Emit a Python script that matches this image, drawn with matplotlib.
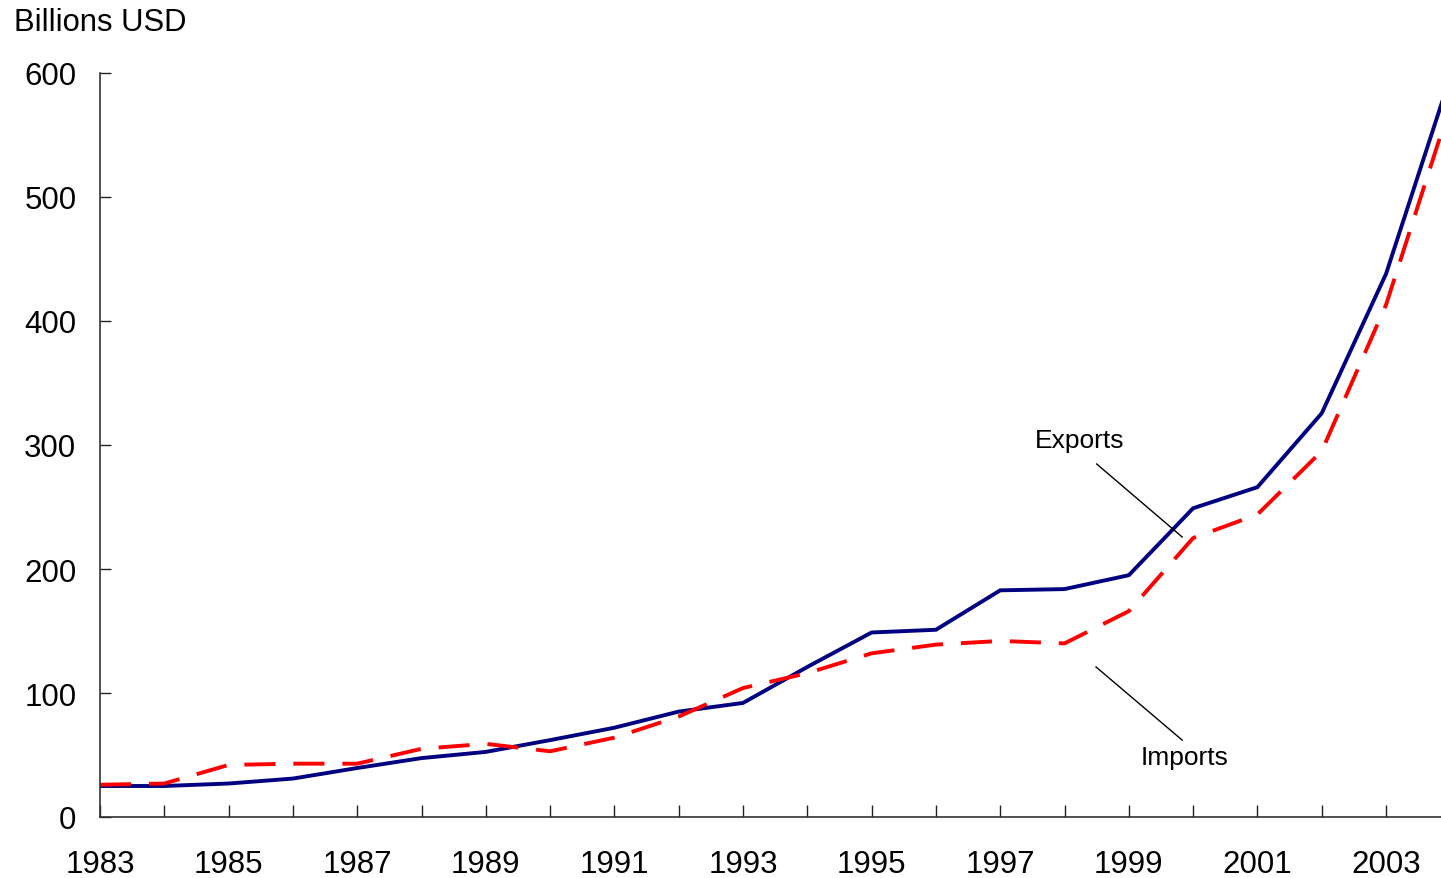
import numpy as np
import matplotlib.pyplot as plt

plt.rcParams['font.family'] = ['Liberation Sans', 'DejaVu Sans']

years = np.arange(1983, 2005)
exports = [25, 25, 27, 31, 39.5, 47.5, 52.5, 62, 72, 85, 92, 121,
           148.8, 151, 182.8, 183.8, 195, 249, 266, 325.6, 438, 597]
imports = [26, 27, 42, 43, 43, 55, 59, 53, 64, 81, 104, 116,
           132, 139, 142, 140, 166, 225, 244, 295, 413, 574]
year_labels = [str(y) if (y - 1983) % 2 == 0 else '' for y in years]

fig = plt.figure(figsize=(14.41, 8.79), dpi=100)
ax = fig.add_axes([100 / 1441, 1 - 818 / 879, 1 - 100 / 1441, (818 - 74) / 879])

ax.plot(years, exports, color='#000080', lw=2.8, solid_joinstyle='miter')
ax.plot(years, imports, color='#FF0000', lw=2.8, dashes=(8, 4.6))

# leader lines + labels
ax.plot([1998.5, 1999.83], [284.7, 225.8], color='black', lw=1)
ax.text(1998.23, 304, 'Exports', fontsize=19, ha='center', va='center')
ax.plot([1998.49, 1999.83], [121, 62], color='black', lw=1)
ax.text(1999.87, 48.4, 'Imports', fontsize=19, ha='center', va='center')

ax.set_yticks(np.arange(0, 601, 100))
ax.set_xticks(years)
ax.set_xticklabels(year_labels)
# limits after ticks, otherwise set_xticks widens the view to 2004
ax.set_xlim(1983, 2003.855)
ax.set_ylim(0, 600)

ax.tick_params(axis='x', direction='in', length=9, width=1, pad=23,
               labelsize=22.5, color='#222222')
ax.tick_params(axis='y', direction='in', length=8, width=1, pad=17,
               labelsize=22.5, color='#222222')
for s in ['top', 'right']:
    ax.spines[s].set_visible(False)
for s in ['left', 'bottom']:
    ax.spines[s].set_color('#333333')
    ax.spines[s].set_linewidth(1.2)

fig.text(14 / 1441, 1 - 23 / 879, 'Billions USD', fontsize=22.3, ha='left', va='center')

fig.savefig('out.png', dpi=100)
